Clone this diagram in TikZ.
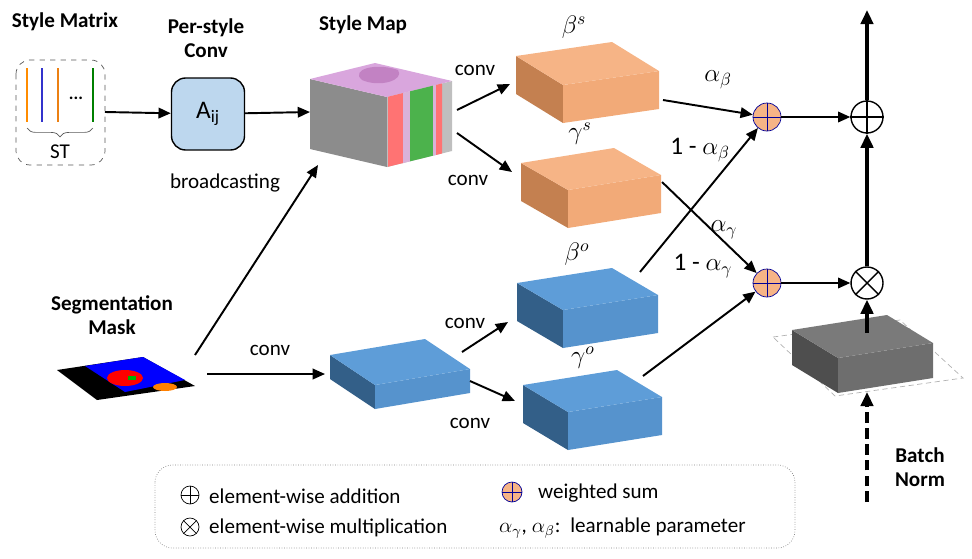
\documentclass[tikz,border=0pt]{standalone}
\usepackage{fontspec}
\setmainfont{Carlito}
\usetikzlibrary{calc,positioning,arrows.meta,decorations.pathreplacing}

\definecolor{ortop}{HTML}{F6B486}
\definecolor{orfront}{HTML}{F2AA78}
\definecolor{orleft}{HTML}{C48050}
\definecolor{bltop}{HTML}{5E9DD8}
\definecolor{blfront}{HTML}{5693CD}
\definecolor{blleft}{HTML}{335F88}
\definecolor{bntop}{HTML}{7A7A7A}
\definecolor{bnfront}{HTML}{6E6E6E}
\definecolor{bnleft}{HTML}{4E4E4E}
\definecolor{smtop}{HTML}{D9A6DD}
\definecolor{smfront}{HTML}{BFBFBF}
\definecolor{smleft}{HTML}{8C8C8C}
\definecolor{convblue}{HTML}{BDD7EE}

% back-left corner x y, back edge ax ay, side edge bx by, height h, colour prefix
\newcommand{\cuboid}[8]{%
  \fill[#8left] (#1,#2) -- ++(#5,#6) -- ++(0,#7) -- ++(-#5,-#6) -- cycle;
  \fill[#8front] (#1+#5,#2+#6) -- ++(#3,#4) -- ++(0,#7) -- ++(-#3,-#4) -- cycle;
  \fill[#8top] (#1,#2) -- ++(#3,#4) -- ++(#5,#6) -- ++(-#3,-#4) -- cycle;
}

\tikzset{
  flow/.style={-{Triangle[length=7pt,width=6pt]},line width=1.1pt},
  thick flow/.style={-{Triangle[length=8pt,width=7pt]},line width=2.2pt},
  title/.style={font=\bfseries\large,align=center},
  lbl/.style={font=\large},
  greek/.style={font=\Large},
  wsum/.style={circle,draw=blue!60!black,fill=ortop,minimum size=0.56cm,inner sep=0pt,
    path picture={\draw[blue!60!black] (path picture bounding box.north) -- (path picture bounding box.south)
      (path picture bounding box.west) -- (path picture bounding box.east);}},
  opnode/.style={circle,draw,thick,fill=white,minimum size=0.64cm,inner sep=0pt},
}

\begin{document}
\begin{tikzpicture}[x=0.02cm,y=-0.02cm]
  \useasboundingbox (0,0) rectangle (972,558);

  % style matrix
  \node[title] (smt) at (65,22) {Style Matrix};
  \draw[dashed,rounded corners=8pt,gray!70!black] (16,60) rectangle (105,165);
  \foreach \x/\c in {27/orange!90!yellow,42/blue!60!gray,58/orange!70!brown,93/green!50!black}
    \draw[\c,line width=1pt] (\x,68) -- (\x,122);
  \node at (76,98) {\bfseries ...};
  \draw[decorate,decoration={brace,mirror,amplitude=5pt},gray!70!black] (27,128) -- (93,128);
  \node[lbl] (st) at (60,152) {ST};
  \coordinate (smr) at (105,112);

  % per-style conv
  \node[title] (pst) at (206,38) {Per-style\\Conv};
  \node[draw,thick,fill=convblue,rounded corners=8pt,minimum width=1.46cm,minimum height=1.44cm,font=\Large] (aij) at (208,114) {A$_{\mathrm{ij}}$};
  \node[lbl] (bc) at (225,183) {broadcasting};

  % style map
  \node[title] (smp) at (363,25) {Style Map};
  \cuboid{310}{79}{65}{-16}{77}{18}{70}{sm}
  \foreach \a/\b/\c in {388/403/red!55,403/410/violet!30,410/433/green!40!gray,433/436/violet!30,436/442/red!55}
    \fill[\c] (\a,{97-(\a-387)*16/65}) -- (\b,{97-(\b-387)*16/65}) -- ++(0,70) -- (\a,{167-(\a-387)*16/65}) -- cycle;
  \fill[violet!55,opacity=.7] (362,80) .. controls (350,70) and (375,62) .. (398,70) .. controls (405,80) and (380,88) .. (362,80);
  \coordinate (sml) at (310,112);
  \coordinate (smb) at (318,165);
  \coordinate (smr1) at (457,110);
  \coordinate (smr2) at (457,133);

  % segmentation mask
  \node[title] (sgt) at (112,315) {Segmentation\\Mask};
  \fill[black] (57,370) -- (143,357) -- (195,386) -- (97,400) -- cycle;
  \fill[blue] (85,366) -- (143,357) -- (185,380) -- (125,392) -- cycle;
  \fill[red] (125,378) ellipse (18 and 8);
  \fill[orange] (165,387) ellipse (12 and 4);
  \fill[green!70!black] (128,376) rectangle (136,380);
  \coordinate (sgu) at (195,355);
  \coordinate (sgr) at (207,374);

  % mid blue block
  \cuboid{330}{355}{95}{-16}{45}{30}{24}{bl}
  \coordinate (mdl) at (325,374);
  \coordinate (mdu) at (462,352);
  \coordinate (mdd) at (470,381);

  % orange blocks
  \cuboid{516}{56}{96}{-14}{47}{29}{38}{or}
  \node[greek] (bs) at (574,27) {$\beta^s$};
  \cuboid{521}{163}{93}{-15}{47}{27}{38}{or}
  \node[greek] (gs) at (580,134) {$\gamma^s$};
  % blue blocks
  \cuboid{517}{283}{95}{-15}{46}{27}{38}{bl}
  \node[greek] (bo) at (577,254) {$\beta^o$};
  \cuboid{523}{385}{94}{-15}{45}{27}{38}{bl}
  \node[greek] (go) at (583,358) {$\gamma^o$};

  % batch norm block
  \draw[gray!60,densely dashed] (773,337) -- (900,320) -- (963,378) -- (835,396) -- cycle;
  \cuboid{792}{330}{95}{-15}{46}{28}{35}{bn}
  \node[title] (bnt) at (920,467) {Batch\\Norm};

  % sum nodes
  \node[wsum] (ws1) at (767,117) {};
  \node[wsum] (ws2) at (767,283) {};
  \node[opnode] (add) at (867,117) {};
  \draw[thick] (add.north) -- (add.south) (add.west) -- (add.east);
  \node[opnode] (mul) at (867,283) {};
  \draw[thick] (mul.north west) -- (mul.south east) (mul.north east) -- (mul.south west);
  \coordinate (out) at (867,10);
  \coordinate (bnu) at (867,333);
  \coordinate (bnd) at (867,502);
  \coordinate (bnb) at (867,392);

  % arrows
  \draw[flow] (smr) -- (aij);
  \draw[flow] (aij) -- (sml);
  \draw[flow] (sgu) -- (smb);
  \draw[flow] (sgr) -- (mdl);
  \node[lbl] (cv1) at (270,350) {conv};
  \draw[flow] (smr1) -- (510,84);
  \node[lbl] (cv2) at (475,70) {conv};
  \draw[flow] (smr2) -- (512,172);
  \node[lbl] (cv3) at (468,180) {conv};
  \draw[flow] (mdu) -- (508,322);
  \node[lbl] (cv4) at (465,323) {conv};
  \draw[flow] (mdd) -- (515,401);
  \node[lbl] (cv5) at (470,423) {conv};
  \draw[flow] (663,100) -- (ws1);
  \node[greek] (ab) at (718,80) {$\alpha_\beta$};
  \draw[flow] (662,182) -- (ws2);
  \node[greek] (ag) at (724,230) {$\alpha_\gamma$};
  \draw[flow] (640,272) -- (ws1);
  \node[greek] (omb) at (700,150) {1 - $\alpha_\beta$};
  \draw[flow] (643,376) -- (ws2);
  \node[greek] (omg) at (703,266) {1 - $\alpha_\gamma$};
  \draw[flow] (ws1) -- (add);
  \draw[flow] (ws2) -- (mul);
  \draw[thick flow] (add) -- (out);
  \draw[thick flow] (mul) -- (add);
  \draw[thick flow] (bnu) -- (mul);
  \draw[thick flow,dash pattern=on 6pt off 3pt] (bnd) -- (bnb);

  % legend
  \draw[densely dotted,gray,rounded corners=10pt] (155,465) rectangle (795,548);
  \node[circle,draw,minimum size=0.36cm,inner sep=0pt] (lga) at (190,495) {};
  \draw (lga.north) -- (lga.south) (lga.west) -- (lga.east);
  \node[lbl,anchor=west] (lgat) at (203,496) {element-wise addition};
  \node[circle,draw,minimum size=0.36cm,inner sep=0pt] (lgm) at (190,527) {};
  \draw (lgm.north west) -- (lgm.south east) (lgm.north east) -- (lgm.south west);
  \node[lbl,anchor=west] (lgmt) at (203,528) {element-wise multiplication};
  \node[wsum,minimum size=0.4cm] (lgw) at (512,492) {};
  \node[lbl,anchor=west] (lgwt) at (532,493) {weighted sum};
  \node[lbl,anchor=west] (lgp) at (493,528) {$\alpha_\gamma$, $\alpha_\beta$:\, learnable parameter};
\end{tikzpicture}
\end{document}
